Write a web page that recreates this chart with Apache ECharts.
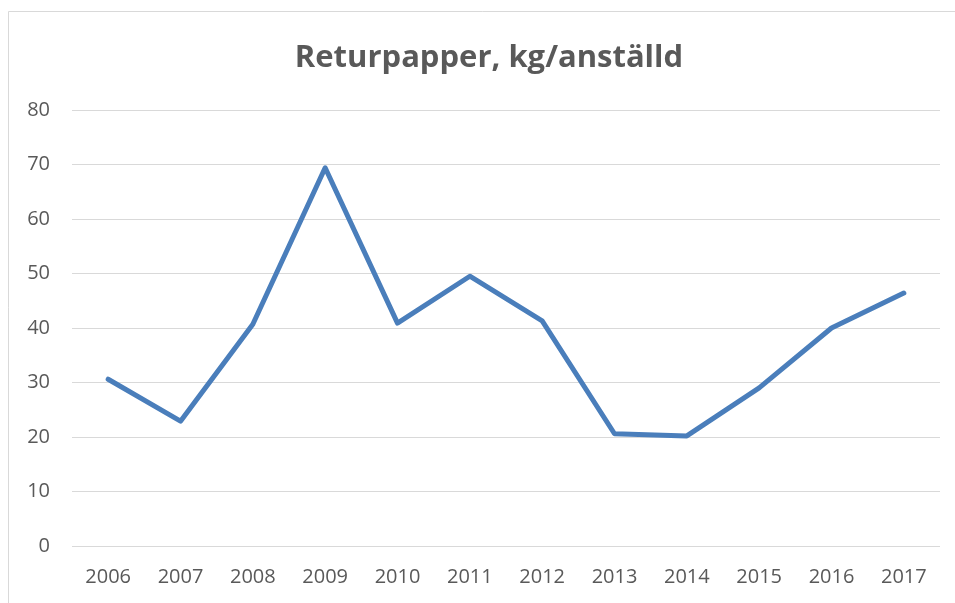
<!DOCTYPE html>
<html>
<head>
<meta charset="utf-8">
<script src="https://cdn.jsdelivr.net/npm/echarts@6/dist/echarts.min.js"></script>
<style>
  html, body { margin: 0; padding: 0; background: #fff; }
  #chart { width: 955px; height: 603px; }
</style>
</head>
<body>
<div id="chart"></div>
<script>
// data
var years  = ['2006','2007','2008','2009','2010','2011','2012','2013','2014','2015','2016','2017'];
var values = [30.6, 22.9, 40.7, 69.4, 40.9, 49.5, 41.3, 20.6, 20.2, 29.0, 40.0, 46.4];
var yMin = 0, yMax = 80, yStep = 10;

var textColor = '#595959';
var myChart = echarts.init(document.getElementById('chart'));
var option = {
    backgroundColor: '#fff',
    animation: false,
    title: {
        text: 'Returpapper, kg/anställd',
        left: 484,
        top: 38,
        textAlign: 'center',
        textStyle: {
            color: textColor,
            fontFamily: 'Open Sans',
            fontWeight: 'bold',
            fontSize: 31
        }
    },
    // outer chart frame
    graphic: [{
        type: 'rect',
        shape: { x: 8.5, y: 11.5, width: 1000, height: 700 },
        style: { fill: 'none', stroke: '#d9d9d9', lineWidth: 1 },
        silent: true
    }],
    grid: {
        left: 72,
        right: 15,
        top: 110,
        bottom: 57
    },
    xAxis: {
        type: 'category',
        data: years,
        boundaryGap: true,
        axisLine: { show: false },
        axisTick: { show: false },
        axisLabel: {
            color: textColor,
            fontFamily: 'Open Sans',
            fontSize: 20,
            margin: 21
        }
    },
    yAxis: {
        type: 'value',
        min: yMin,
        max: yMax,
        interval: yStep,
        axisLine: { show: false },
        axisTick: { show: false },
        splitLine: { lineStyle: { color: '#d9d9d9', width: 1 } },
        axisLabel: {
            color: textColor,
            fontFamily: 'Open Sans',
            fontSize: 20,
            margin: 22
        }
    },
    series: [{
        type: 'line',
        data: values,
        symbol: 'none',
        smooth: false,
        lineStyle: { color: '#4a7ebb', width: 5, join: 'round', cap: 'round' }
    }]
};
myChart.setOption(option);
</script>
</body>
</html>
